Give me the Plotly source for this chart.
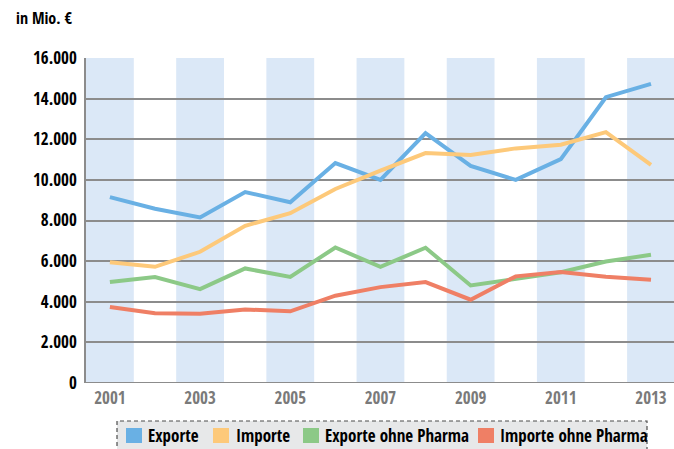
import plotly.graph_objects as go

years = [2001, 2002, 2003, 2004, 2005, 2006, 2007, 2008, 2009, 2010, 2011, 2012, 2013]
exporte = [9150, 8580, 8150, 9400, 8900, 10830, 10000, 12300, 10690, 10000, 11020, 14070, 14730]
importe = [5940, 5720, 6460, 7740, 8360, 9550, 10460, 11320, 11220, 11550, 11730, 12350, 10740]
exporte_ohne = [4970, 5220, 4620, 5640, 5220, 6670, 5720, 6660, 4800, 5110, 5450, 5980, 6310]
importe_ohne = [3740, 3430, 3410, 3620, 3530, 4300, 4720, 4970, 4100, 5250, 5460, 5230, 5080]
band_years = [2001, 2003, 2005, 2007, 2009, 2011, 2013]
y_ticks = [0, 2000, 4000, 6000, 8000, 10000, 12000, 14000, 16000]
y_labels = ["0", "2.000", "4.000", "6.000", "8.000", "10.000", "12.000", "14.000", "16.000"]
x_ticks = [2001, 2003, 2005, 2007, 2009, 2011, 2013]
names = ["Exporte", "Importe", "Exporte ohne Pharma", "Importe ohne Pharma"]
colors = ["#69b0e4", "#fdc97a", "#8cc987", "#ef7f65"]
values = [exporte, importe, exporte_ohne, importe_ohne]

FONT = "Open Sans Condensed, Roboto Condensed, sans-serif"

# plot area in pixels
L, R, T, B = 86, 674, 58, 383
PW, PH = R - L, B - T


def px(x):
    return (x - L) / PW


def py(y):
    return (B - y) / PH


fig = go.Figure()
for name, vals, col in zip(names, values, colors):
    fig.add_trace(go.Scatter(x=years, y=vals, mode="lines", name=name,
                             line=dict(color=col, width=4), showlegend=False))

shapes = []
for yr in band_years:
    shapes.append(dict(type="rect", xref="x", yref="paper", x0=yr - 0.53, x1=yr + 0.53,
                       y0=0, y1=1, fillcolor="#dbe8f7", line=dict(width=0), layer="below"))
# legend box (custom, dashed border)
shapes.append(dict(type="rect", xref="paper", yref="paper",
                   x0=px(117), x1=px(647), y0=py(460), y1=py(421),
                   fillcolor="#e7e8e9", line=dict(color="#4d4d4d", width=1.2, dash="4px,3px"),
                   layer="above"))
sw_x = [126, 213, 303, 478]
tx_x = [146, 234, 323, 498]
annotations = []
for sx, tx, name, col in zip(sw_x, tx_x, names, colors):
    shapes.append(dict(type="rect", xref="paper", yref="paper",
                       x0=px(sx), x1=px(sx + 16), y0=py(443), y1=py(428),
                       fillcolor=col, line=dict(width=0), layer="above"))
    annotations.append(dict(text=name, xref="paper", yref="paper", x=px(tx), y=py(435.5),
                            xanchor="left", yanchor="middle", showarrow=False,
                            font=dict(size=17, color="black", weight="bold")))
shapes.append(dict(type="line", xref="paper", yref="y", x0=0, x1=1, y0=0, y1=0,
                   line=dict(color="#8c8c8c", width=2), layer="above"))

annotations.append(dict(text="in Mio. €", xref="paper", yref="paper", x=px(14), y=py(18),
                        xanchor="left", yanchor="middle", showarrow=False,
                        font=dict(size=16, color="black", weight="bold")))

fig.update_layout(
    width=674, height=449,
    margin=dict(l=L, r=674 - R, t=T, b=449 - B),
    paper_bgcolor="white", plot_bgcolor="white",
    font=dict(family=FONT, size=16, color="black", weight="bold"),
    shapes=shapes, annotations=annotations,
    showlegend=False,
)
fig.update_xaxes(range=[2000.47, 2013.51], tickvals=x_ticks, ticktext=[str(t) for t in x_ticks],
                 showgrid=False, zeroline=False, showline=False,
                 tickfont=dict(size=17, color="#7a7a7a", weight="bold"), ticks="", ticklabelstandoff=3)
fig.update_yaxes(range=[0, 16000], tickvals=y_ticks, ticktext=y_labels,
                 showgrid=True, gridcolor="#8c8c8c", gridwidth=1.5, zeroline=False,
                 showline=True, linecolor="#8c8c8c", linewidth=1.5,
                 tickfont=dict(size=17, color="black", weight="bold"), ticks="", ticklabelstandoff=4)

fig.write_html("out.html",
               config={"displayModeBar": False},
               post_script="document.body.style.margin='0px';"
                           "document.documentElement.style.overflow='hidden';")
